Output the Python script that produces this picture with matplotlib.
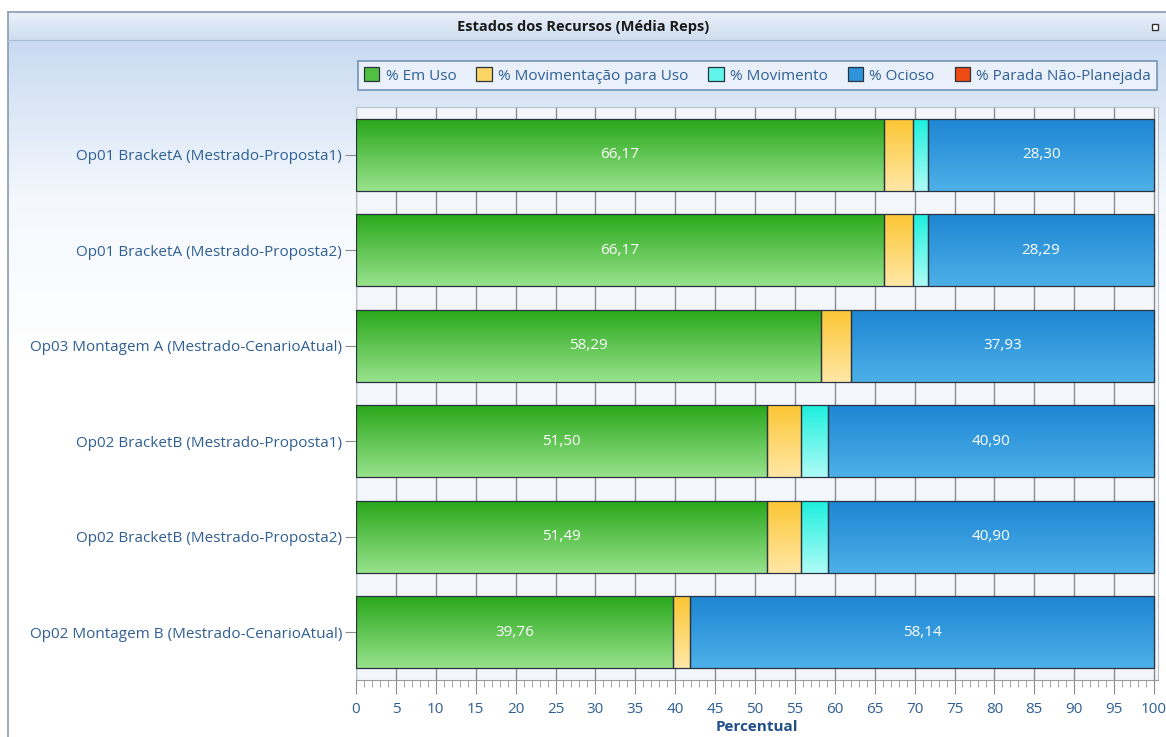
import numpy as np
import matplotlib
matplotlib.use("Agg")
import matplotlib.pyplot as plt
from matplotlib.colors import LinearSegmentedColormap
from matplotlib.patches import Patch, Rectangle

plt.rcParams["font.family"] = ["Open Sans", "DejaVu Sans"]

# data
recursos = [
    "Op01 BracketA (Mestrado-Proposta1)",
    "Op01 BracketA (Mestrado-Proposta2)",
    "Op03 Montagem A (Mestrado-CenarioAtual)",
    "Op02 BracketB (Mestrado-Proposta1)",
    "Op02 BracketB (Mestrado-Proposta2)",
    "Op02 Montagem B (Mestrado-CenarioAtual)",
]
em_uso = [66.17, 66.17, 58.29, 51.50, 51.49, 39.76]
mov_para_uso = [3.57, 3.57, 3.78, 4.30, 4.31, 2.10]
movimento = [1.96, 1.97, 0.0, 3.30, 3.30, 0.0]
ocioso = [28.30, 28.29, 37.93, 40.90, 40.90, 58.14]
parada = [0.0, 0.0, 0.0, 0.0, 0.0, 0.0]

series = ["% Em Uso", "% Movimentação para Uso", "% Movimento", "% Ocioso", "% Parada Não-Planejada"]
valores = [em_uso, mov_para_uso, movimento, ocioso, parada]
# gradient top -> bottom for each series
grad_cores = [
    ("#2aa81b", "#98e28c"),
    ("#fcc735", "#ffe7a6"),
    ("#1ff0df", "#aefcf6"),
    ("#1e86d3", "#4db0e8"),
    ("#e83a0c", "#ff7a40"),
]
cor_legenda = ["#52be42", "#fdd565", "#5ff5ea", "#2f95da", "#f04a14"]
cor_texto = "#2f5f94"

W, H = 1166, 737
fig = plt.figure(figsize=(W / 100, H / 100), dpi=100)

# window background
bg = fig.add_axes([0, 0, 1, 1], zorder=-10)
bg.axis("off")
body = np.clip(np.linspace(0, 1, 256).reshape(-1, 1) * 2.2, 0, 1)
cm_body = LinearSegmentedColormap.from_list("body", ["#c9dbf1", "#f4f8fd", "#ffffff"])
bg.imshow(body, extent=(8, W, H, 40), cmap=cm_body, aspect="auto", origin="upper")
cm_tit = LinearSegmentedColormap.from_list("tit", ["#e9f0f9", "#cfdeef"])
bg.imshow(np.linspace(0, 1, 64).reshape(-1, 1), extent=(8, W, 40, 12), cmap=cm_tit, aspect="auto", origin="upper")
bg.plot([8, 8], [12, H], color="#8a9ab0", lw=1.2)
bg.plot([8, W], [12, 12], color="#8a9ab0", lw=1.2)
bg.plot([8, W], [40, 40], color="#a9bdd6", lw=0.8)
bg.text(583, 27, "Estados dos Recursos (Média Reps)", ha="center", va="center",
        fontsize=10.5, fontweight="bold", color="#1a1a1a")
bg.add_patch(Rectangle((1152, 24), 6, 6, facecolor="white", edgecolor="#333333", lw=1))
bg.set_xlim(0, W)
bg.set_ylim(H, 0)

# plot area
ax = fig.add_axes([356 / W, 57 / H, 802 / W, 573 / H])
ax.set_facecolor("#f3f6fb")
y = np.arange(len(recursos))
altura = 0.75

esquerda = np.zeros(len(recursos))
for vals, (c_top, c_bot) in zip(valores, grad_cores):
    vals = np.array(vals)
    cont = ax.barh(y, vals, left=esquerda, height=altura, facecolor="none",
                   edgecolor="#2a3440", linewidth=0.9, zorder=4)
    cmap = LinearSegmentedColormap.from_list("g", [c_top, c_bot])
    for p, v in zip(cont.patches, vals):
        if v <= 0:
            p.set_visible(False)
            continue
        x0, y0 = p.get_x(), p.get_y()
        ax.imshow(np.linspace(0, 1, 64).reshape(-1, 1),
                  extent=(x0, x0 + p.get_width(), y0 + p.get_height(), y0),
                  cmap=cmap, aspect="auto", origin="upper", zorder=3)
    esquerda = esquerda + vals

# value labels on green and blue segments
for i in range(len(recursos)):
    ax.text(em_uso[i] / 2, y[i], f"{em_uso[i]:.2f}".replace(".", ","),
            ha="center", va="center", color="white", fontsize=11, zorder=5)
    inicio = em_uso[i] + mov_para_uso[i] + movimento[i]
    ax.text(inicio + ocioso[i] / 2, y[i], f"{ocioso[i]:.2f}".replace(".", ","),
            ha="center", va="center", color="white", fontsize=11, zorder=5)

ax.set_xlim(0, 100.5)
ax.set_ylim(len(recursos) - 0.5, -0.5)
ax.set_xticks(np.arange(0, 101, 5))
ax.set_xticks(np.arange(0, 101, 1), minor=True)
ax.set_yticks(y)
ax.set_yticklabels(recursos)
ax.grid(axis="x", which="major", color="#8c8c8c", linewidth=1.0, zorder=1)
ax.set_axisbelow(True)
ax.tick_params(axis="x", which="major", length=10, color="#8c8c8c", labelsize=11,
               labelcolor=cor_texto, pad=6)
ax.tick_params(axis="x", which="minor", length=5, color="#9a9a9a")
ax.tick_params(axis="y", length=8, color="#8c8c8c", labelsize=11, labelcolor=cor_texto, pad=2)
for s in ax.spines.values():
    s.set_color("#b8c0cc")
ax.spines["bottom"].set_color("#9a9a9a")
ax.set_xlabel("Percentual", fontsize=11, fontweight="bold", color="#1f4e8a", labelpad=2)

# legend
handles = [Patch(facecolor=c, edgecolor="#2a3440", linewidth=0.9) for c in cor_legenda]
leg = fig.legend(handles, series, loc="center", ncol=5,
                 bbox_to_anchor=(358 / W, 1 - 96 / H, 799 / W, 41 / H), mode="expand",
                 frameon=True, fancybox=False, edgecolor="#5a7fa8", facecolor="#f0f5fc",
                 fontsize=11, handlelength=1.0, handleheight=1.0, handletextpad=0.4,
                 columnspacing=0.8, borderaxespad=0)
leg.get_frame().set_linewidth(1.2)
for t in leg.get_texts():
    t.set_color(cor_texto)

fig.savefig("out.png", dpi=100)
